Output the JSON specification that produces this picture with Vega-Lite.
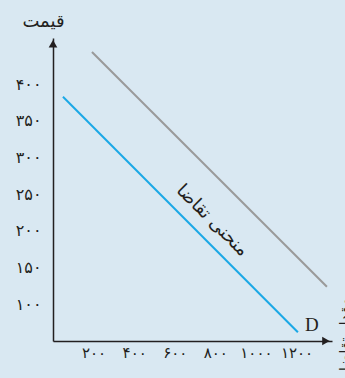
{
  "$schema": "https://vega.github.io/schema/vega-lite/v6.json",
  "width": 279,
  "height": 303,
  "autosize": "none",
  "padding": {"left": 53, "top": 38, "right": 13, "bottom": 37},
  "background": "#d9e8f2",
  "config": {"view": {"stroke": null}, "font": "DejaVu Sans"},
  "datasets": {
    "curves": [
      {"curve": "demand", "q": 49, "p": 383},
      {"curve": "demand", "q": 1207, "p": 62},
      {"curve": "shifted", "q": 192, "p": 444},
      {"curve": "shifted", "q": 1350, "p": 124}
    ],
    "arrows": [
      {"q": 0, "p": 455, "shape": "triangle-up"},
      {"q": 1345, "p": 50, "shape": "triangle-right"}
    ],
    "curveLabel": [{"q": 784, "p": 214, "text": "منحنی تقاضا"}],
    "dLabel": [{"q": 1276, "p": 72, "text": "D"}]
  },
  "encoding": {
    "x": {
      "field": "q",
      "type": "quantitative",
      "scale": {"domain": [0, 1375], "nice": false, "zero": false},
      "axis": {
        "values": [200, 400, 600, 800, 1000, 1200],
        "format": "d",
        "labelExpr": "replace(replace(replace(replace(replace(replace(replace(replace(datum.label, regexp('0','g'), '۰'), regexp('1','g'), '۱'), regexp('2','g'), '۲'), regexp('3','g'), '۳'), regexp('4','g'), '۴'), regexp('5','g'), '۵'), regexp('6','g'), '۶'), regexp('8','g'), '۸')",
        "domain": true,
        "domainColor": "#231f20",
        "domainWidth": 1.5,
        "ticks": false,
        "grid": false,
        "labelOverlap": false,
        "labelFlush": false,
        "labelFontSize": 15,
        "labelColor": "#231f20",
        "labelPadding": 4,
        "labelBaseline": "top",
        "title": "مقدار تقاضا",
        "titleAngle": -90,
        "titleX": 284,
        "titleY": -7,
        "titleAlign": "center",
        "titleBaseline": "top",
        "titleFontSize": 15,
        "titleFontWeight": "normal",
        "titleColor": "#231f20"
      }
    },
    "y": {
      "field": "p",
      "type": "quantitative",
      "scale": {"domain": [50, 463], "nice": false, "zero": false},
      "axis": {
        "values": [100, 150, 200, 250, 300, 350, 400],
        "format": "d",
        "labelExpr": "replace(replace(replace(replace(replace(replace(replace(replace(datum.label, regexp('0','g'), '۰'), regexp('1','g'), '۱'), regexp('2','g'), '۲'), regexp('3','g'), '۳'), regexp('4','g'), '۴'), regexp('5','g'), '۵'), regexp('6','g'), '۶'), regexp('8','g'), '۸')",
        "domain": true,
        "domainColor": "#231f20",
        "domainWidth": 1.5,
        "ticks": false,
        "grid": false,
        "labelOverlap": false,
        "labelFlush": false,
        "labelFontSize": 16,
        "labelColor": "#231f20",
        "labelPadding": 12,
        "title": "قیمت",
        "titleAngle": 0,
        "titleX": -10,
        "titleY": -17,
        "titleAlign": "center",
        "titleBaseline": "middle",
        "titleFontSize": 18,
        "titleFontWeight": "normal",
        "titleColor": "#231f20"
      }
    }
  },
  "layer": [
    {
      "data": {"name": "curves"},
      "mark": {"type": "line", "strokeWidth": 2},
      "encoding": {
        "color": {
          "field": "curve",
          "type": "nominal",
          "scale": {"domain": ["demand", "shifted"], "range": ["#1ba8e6", "#9a9a9a"]},
          "legend": null
        }
      }
    },
    {
      "data": {"name": "arrows"},
      "mark": {"type": "point", "filled": true, "color": "#231f20", "opacity": 1, "size": 75},
      "encoding": {
        "shape": {"field": "shape", "type": "nominal", "scale": null}
      }
    },
    {
      "data": {"name": "curveLabel"},
      "mark": {"type": "text", "angle": 45, "fontSize": 18, "color": "#231f20", "font": "DejaVu Sans"},
      "encoding": {"text": {"field": "text"}}
    },
    {
      "data": {"name": "dLabel"},
      "mark": {"type": "text", "fontSize": 19, "color": "#231f20", "font": "Liberation Serif"},
      "encoding": {"text": {"field": "text"}}
    }
  ]
}
